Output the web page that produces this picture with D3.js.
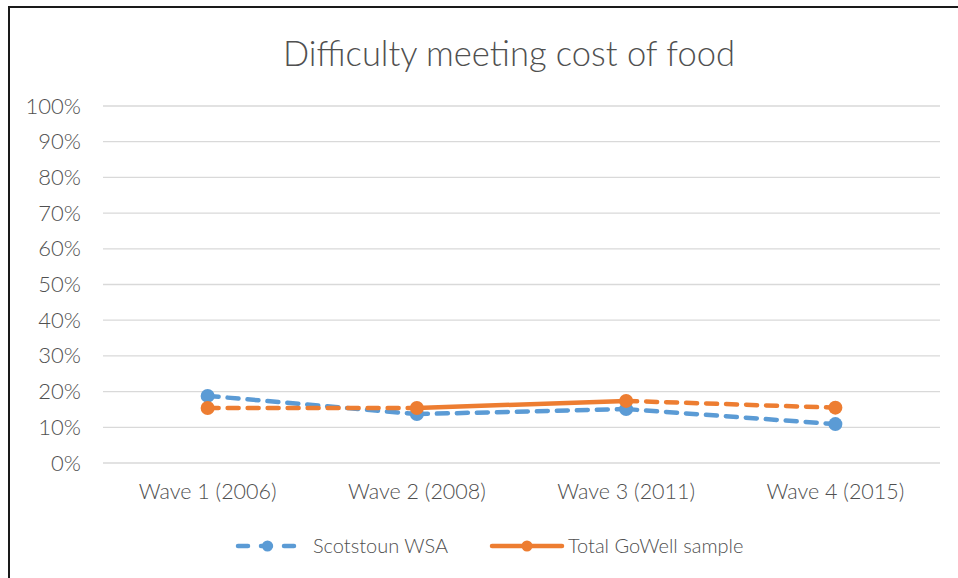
<!DOCTYPE html>
<html>
<head>
<meta charset="utf-8">
<script src="https://cdn.jsdelivr.net/npm/d3@7"></script>
<style>
  html, body { margin: 0; padding: 0; background: #fff; }
  svg { display: block; font-family: Lato, sans-serif; }
</style>
</head>
<body>
<div id="chart"></div>
<script>
// data
const categories = ['Wave 1 (2006)', 'Wave 2 (2008)', 'Wave 3 (2011)', 'Wave 4 (2015)'];
const scotstoun = [0.188, 0.137, 0.151, 0.109];
const totalGoWell = [0.154, 0.154, 0.174, 0.155];
// dashed (true) or solid (false) for each segment between waves
const scotstounDashed = [true, true, true];
const totalDashed = [true, false, true];
const yTicks = [0, 0.1, 0.2, 0.3, 0.4, 0.5, 0.6, 0.7, 0.8, 0.9, 1];

const W = 958, H = 578;
const margin = { top: 106, right: 18, bottom: 115, left: 103 };
const textColor = '#505050';
const fontFam = 'Lato, sans-serif';

const svg = d3.select('#chart').append('svg')
  .attr('width', W).attr('height', H);

// outer frame (only top and left visible in the picture)
svg.append('rect')
  .attr('x', 9).attr('y', 7)
  .attr('width', W + 10).attr('height', H + 10)
  .attr('fill', 'none').attr('stroke', '#1a1a1a').attr('stroke-width', 2);

svg.append('text')
  .attr('x', 509).attr('y', 66)
  .attr('text-anchor', 'middle')
  .attr('font-size', 34.5)
  .attr('font-weight', 300)
  .attr('fill', textColor)
  .text('Difficulty meeting cost of food');

const x = d3.scaleBand().domain(categories)
  .range([margin.left, W - margin.right]);
const y = d3.scaleLinear().domain([0, 1])
  .range([H - margin.bottom, margin.top]);

// gridlines
svg.append('g').selectAll('line').data(yTicks).join('line')
  .attr('x1', margin.left).attr('x2', W - margin.right)
  .attr('y1', d => y(d)).attr('y2', d => y(d))
  .attr('stroke', '#d9d9d9').attr('stroke-width', 1.3);

// y axis labels
const yAxis = svg.append('g')
  .attr('transform', `translate(${margin.left - 22},0)`)
  .call(d3.axisLeft(y).tickValues(yTicks).tickFormat(d3.format('.0%')).tickSize(0).tickPadding(0));
yAxis.select('.domain').remove();
yAxis.selectAll('text').attr('font-size', 22).attr('font-weight', 300)
  .attr('fill', textColor).attr('font-family', fontFam);

// x axis labels
const xAxis = svg.append('g')
  .attr('transform', `translate(0,${y(0)})`)
  .call(d3.axisBottom(x).tickSize(0).tickPadding(21));
xAxis.select('.domain').remove();
xAxis.selectAll('text').attr('font-size', 21.5).attr('font-weight', 300)
  .attr('fill', textColor).attr('font-family', fontFam);

const cx = c => x(c) + x.bandwidth() / 2;
const dash = '11 9';

function drawSeries(values, dashed, color) {
  const g = svg.append('g');
  const pts = values.map((v, i) => [cx(categories[i]), y(v)]);
  g.selectAll('line').data(pts.slice(1)).join('line')
    .attr('x1', (d, i) => pts[i][0]).attr('y1', (d, i) => pts[i][1])
    .attr('x2', d => d[0]).attr('y2', d => d[1])
    .attr('stroke', color).attr('stroke-width', 4.5)
    .attr('stroke-linecap', 'round')
    .attr('stroke-dasharray', (d, i) => dashed[i] ? dash : null);
  g.selectAll('circle').data(pts).join('circle')
    .attr('cx', d => d[0]).attr('cy', d => d[1]).attr('r', 7)
    .attr('fill', color);
}

drawSeries(scotstoun, scotstounDashed, '#5b9bd5');
drawSeries(totalGoWell, totalDashed, '#ed7d31');

// legend
const legendItems = [
  { name: 'Scotstoun WSA', color: '#5b9bd5', dashed: true, x0: 238, x1: 297, tx: 313 },
  { name: 'Total GoWell sample', color: '#ed7d31', dashed: false, x0: 492, x1: 562, tx: 568 }
];
const ly = 546;
const lg = svg.append('g');
legendItems.forEach(it => {
  lg.append('line')
    .attr('x1', it.x0).attr('x2', it.x1).attr('y1', ly).attr('y2', ly)
    .attr('stroke', it.color).attr('stroke-width', 4.5)
    .attr('stroke-linecap', 'round')
    .attr('stroke-dasharray', it.dashed ? '10 13' : null);
  lg.append('circle')
    .attr('cx', (it.x0 + it.x1) / 2).attr('cy', ly).attr('r', 5.5)
    .attr('fill', it.color);
  lg.append('text')
    .attr('x', it.tx).attr('y', ly).attr('dy', '0.35em')
    .attr('font-size', 20).attr('font-weight', 300)
    .attr('fill', textColor)
    .text(it.name);
});
</script>
</body>
</html>
